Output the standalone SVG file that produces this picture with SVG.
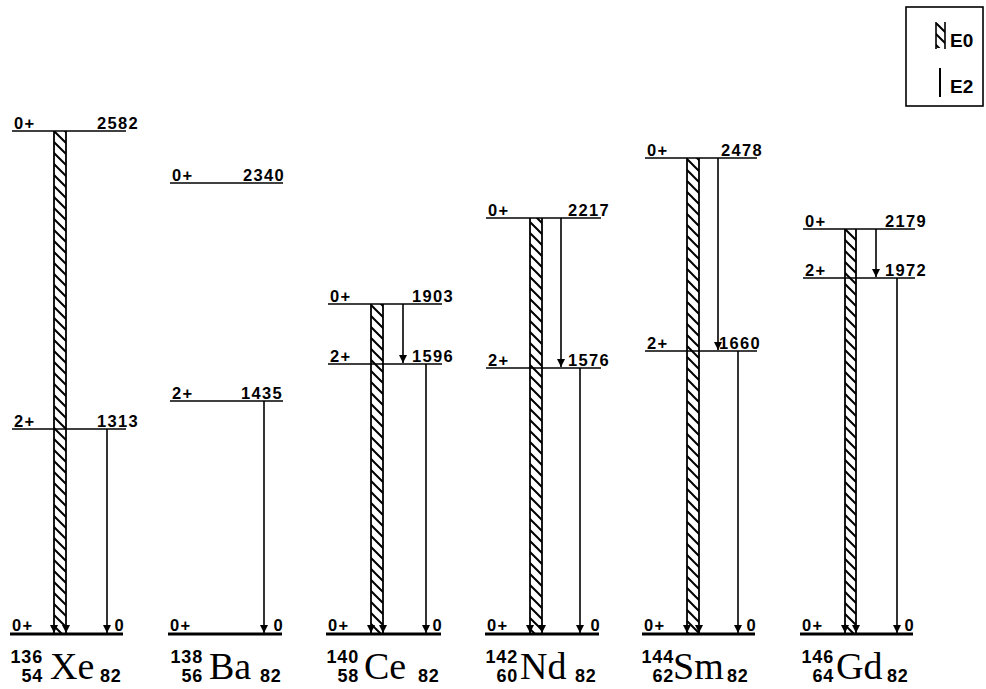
<svg xmlns="http://www.w3.org/2000/svg" width="986" height="689" viewBox="0 0 986 689">
<defs>
<pattern id="hatch" patternUnits="userSpaceOnUse" width="11" height="11">
<path d="M-1,-1 L12,12 M-1,10 L1,12 M10,-1 L12,1" stroke="#000" stroke-width="2"/>
</pattern>
<marker id="ah" markerUnits="userSpaceOnUse" viewBox="0 0 8 8" refX="8" refY="4" markerWidth="9" markerHeight="8" orient="auto">
<path d="M0,0 L8,4 L0,8 z" fill="#000"/>
</marker>
</defs>
<style>
.lv{stroke:#000;stroke-width:1.6;fill:none}
.gd{stroke:#000;stroke-width:3.2;fill:none}
.e2{stroke:#000;stroke-width:1.6;fill:none;marker-end:url(#ah)}
.be{stroke:#000;stroke-width:1.8;fill:none;marker-end:url(#ah)}
.band{fill:url(#hatch);stroke:none}
.lb{font-family:"Liberation Sans",Arial,sans-serif;font-weight:bold;font-size:16.5px;letter-spacing:1.3px;fill:#000}
.en{font-family:"Liberation Sans",Arial,sans-serif;font-weight:bold;font-size:16.5px;letter-spacing:1.3px;fill:#000;text-anchor:end}
.iso{font-family:"Liberation Sans",Arial,sans-serif;font-weight:bold;font-size:18px;letter-spacing:0.8px;fill:#000;text-anchor:end}
.sub{font-family:"Liberation Sans",Arial,sans-serif;font-weight:bold;font-size:18px;letter-spacing:0.8px;fill:#000}
.el{font-family:"Liberation Serif","Times New Roman",serif;font-size:38px;fill:#000}
.leg{font-family:"Liberation Sans",Arial,sans-serif;font-weight:bold;font-size:19px;fill:#000}
</style>
<rect width="986" height="689" fill="#fff"/>

<g id="legend">
<rect x="906" y="7" width="77" height="99" fill="#fff" stroke="#000" stroke-width="1.6"/>
<rect x="936" y="23" width="9" height="25" fill="url(#hatch)"/>
<line x1="936" y1="22" x2="936" y2="49" stroke="#000" stroke-width="1.6"/>
<line x1="945" y1="22" x2="945" y2="49" stroke="#000" stroke-width="1.6"/>
<text class="leg" x="950" y="47">E0</text>
<line x1="940" y1="68" x2="940" y2="97" stroke="#000" stroke-width="2"/>
<text class="leg" x="950" y="93">E2</text>
</g>

<g id="connectors">
<rect class="band" x="54" y="131" width="12" height="503"/>
<line class="be" x1="54" y1="131" x2="54" y2="633"/>
<line class="be" x1="66" y1="131" x2="66" y2="633"/>
<line class="e2" x1="107" y1="429" x2="107" y2="633"/>
<line class="e2" x1="264" y1="401" x2="264" y2="633"/>
<rect class="band" x="371" y="304" width="12" height="330"/>
<line class="be" x1="371" y1="304" x2="371" y2="633"/>
<line class="be" x1="383" y1="304" x2="383" y2="633"/>
<line class="e2" x1="403" y1="304" x2="403" y2="363"/>
<line class="e2" x1="426" y1="364" x2="426" y2="633"/>
<rect class="band" x="530" y="218" width="12" height="416"/>
<line class="be" x1="530" y1="218" x2="530" y2="633"/>
<line class="be" x1="542" y1="218" x2="542" y2="633"/>
<line class="e2" x1="561" y1="218" x2="561" y2="367"/>
<line class="e2" x1="580" y1="368" x2="580" y2="633"/>
<rect class="band" x="687" y="158" width="12" height="476"/>
<line class="be" x1="687" y1="158" x2="687" y2="633"/>
<line class="be" x1="699" y1="158" x2="699" y2="633"/>
<line class="e2" x1="718" y1="158" x2="718" y2="350"/>
<line class="e2" x1="738" y1="351" x2="738" y2="633"/>
<rect class="band" x="845" y="229" width="11" height="405"/>
<line class="be" x1="845" y1="229" x2="845" y2="633"/>
<line class="be" x1="856" y1="229" x2="856" y2="633"/>
<line class="e2" x1="876" y1="229" x2="876" y2="277"/>
<line class="e2" x1="897" y1="278" x2="897" y2="633"/>
</g>

<g id="Xe136">
<line class="lv" x1="12" y1="131" x2="126" y2="131"/>
<text class="lb" x="14" y="129">0+</text><text class="en" x="139" y="129">2582</text>
<line class="lv" x1="12" y1="429" x2="126" y2="429"/>
<text class="lb" x="14" y="427">2+</text><text class="en" x="139" y="427">1313</text>
<line class="gd" x1="10" y1="634" x2="123" y2="634"/>
<text class="lb" x="12" y="631">0+</text><text class="en" x="125" y="631">0</text>
<text class="iso" x="43" y="663">136</text><text class="iso" x="43" y="682">54</text>
<text class="el" x="50" y="679">Xe</text><text class="sub" x="100" y="682">82</text>
</g>

<g id="Ba138">
<line class="lv" x1="170" y1="183" x2="283" y2="183"/>
<text class="lb" x="172" y="181">0+</text><text class="en" x="285" y="181">2340</text>
<line class="lv" x1="170" y1="401" x2="283" y2="401"/>
<text class="lb" x="172" y="399">2+</text><text class="en" x="283" y="399">1435</text>
<line class="gd" x1="168" y1="634" x2="282" y2="634"/>
<text class="lb" x="170" y="631">0+</text><text class="en" x="284" y="631">0</text>
<text class="iso" x="203" y="663">138</text><text class="iso" x="203" y="682">56</text>
<text class="el" x="209" y="679">Ba</text><text class="sub" x="260" y="682">82</text>
</g>

<g id="Ce140">
<line class="lv" x1="328" y1="304" x2="442" y2="304"/>
<text class="lb" x="330" y="302">0+</text><text class="en" x="454" y="302">1903</text>
<line class="lv" x1="328" y1="364" x2="442" y2="364"/>
<text class="lb" x="330" y="362">2+</text><text class="en" x="454" y="362">1596</text>
<line class="gd" x1="326" y1="634" x2="441" y2="634"/>
<text class="lb" x="328" y="631">0+</text><text class="en" x="443" y="631">0</text>
<text class="iso" x="359" y="663">140</text><text class="iso" x="359" y="682">58</text>
<text class="el" x="364" y="679">Ce</text><text class="sub" x="418" y="682">82</text>
</g>

<g id="Nd142">
<line class="lv" x1="486" y1="218" x2="601" y2="218"/>
<text class="lb" x="488" y="216">0+</text><text class="en" x="610" y="216">2217</text>
<line class="lv" x1="486" y1="368" x2="601" y2="368"/>
<text class="lb" x="488" y="366">2+</text><text class="en" x="610" y="366">1576</text>
<line class="gd" x1="485" y1="634" x2="599" y2="634"/>
<text class="lb" x="487" y="631">0+</text><text class="en" x="601" y="631">0</text>
<text class="iso" x="518" y="663">142</text><text class="iso" x="518" y="682">60</text>
<text class="el" x="520" y="679">Nd</text><text class="sub" x="575" y="682">82</text>
</g>

<g id="Sm144">
<line class="lv" x1="645" y1="158" x2="757" y2="158"/>
<text class="lb" x="647" y="156">0+</text><text class="en" x="763" y="156">2478</text>
<line class="lv" x1="645" y1="351" x2="757" y2="351"/>
<text class="lb" x="647" y="349">2+</text><text class="en" x="761" y="349">1660</text>
<line class="gd" x1="642" y1="634" x2="755" y2="634"/>
<text class="lb" x="644" y="631">0+</text><text class="en" x="757" y="631">0</text>
<text class="iso" x="674" y="663">144</text><text class="iso" x="674" y="682">62</text>
<text class="el" x="673" y="679">Sm</text><text class="sub" x="727" y="682">82</text>
</g>

<g id="Gd146">
<line class="lv" x1="803" y1="229" x2="915" y2="229"/>
<text class="lb" x="805" y="227">0+</text><text class="en" x="927" y="227">2179</text>
<line class="lv" x1="803" y1="278" x2="915" y2="278"/>
<text class="lb" x="805" y="276">2+</text><text class="en" x="927" y="276">1972</text>
<line class="gd" x1="800" y1="634" x2="913" y2="634"/>
<text class="lb" x="802" y="631">0+</text><text class="en" x="915" y="631">0</text>
<text class="iso" x="834" y="663">146</text><text class="iso" x="834" y="682">64</text>
<text class="el" x="836" y="679">Gd</text><text class="sub" x="887" y="682">82</text>
</g>
</svg>
